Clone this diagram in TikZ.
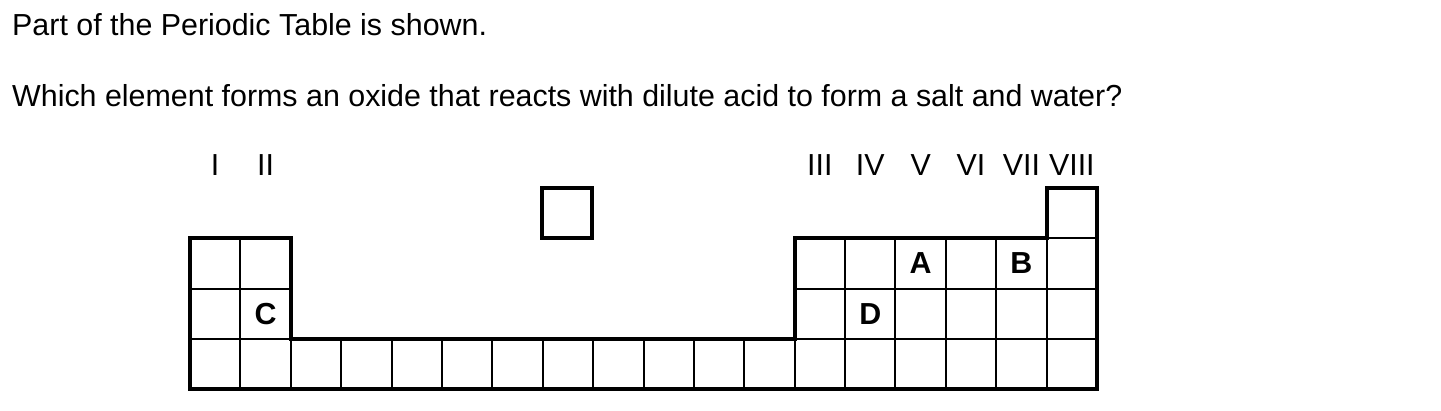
\documentclass[tikz,border=0pt]{standalone}
\usepackage{fontspec}
\setmainfont{Liberation Sans}
\begin{document}
\begin{tikzpicture}[x=1pt,y=-1pt,
  txt/.style={inner sep=0pt,font=\fontsize{30.4}{36}\selectfont},
  lbl/.style={inner sep=0pt,font=\fontsize{30.4}{36}\selectfont\bfseries},
  thin/.style={line width=2pt,draw=black},
  thick/.style={line width=4pt,draw=black,line join=miter}]
\useasboundingbox[fill=white] (0,0) rectangle (1441,410);
\def\cw{50.39}
\def\xl{190}
% question text
\node[txt,anchor=base west] (q1) at (12,35) {Part of the Periodic Table is shown.};
\node[txt,anchor=base west] (q2) at (12,106) {Which element forms an oxide that reacts with dilute acid to form a salt and water?};
% group numerals
\foreach \k/\t in {1/I,2/II,13/III,14/IV,15/V,16/VI,17/VII,18/VIII}{
  \node[txt,anchor=base] (g\k) at ({\xl+(\k-0.5)*\cw},175) {\t};
}
% thin grid lines
\draw[thin] (\xl,288.5) -- (291,288.5);
\draw[thin] (240.4,238) -- (240.4,389);
\draw[thin] (\xl,339) -- (1097,339);
\draw[thin] (795,288.5) -- (1097,288.5);
\draw[thin] (1047,238) -- (1097,238);
\foreach \k in {13,...,17}{
  \draw[thin] ({\xl+\k*\cw},238) -- ({\xl+\k*\cw},389);
}
\foreach \k in {1,...,17}{
  \draw[thin] ({\xl+\k*\cw},339) -- ({\xl+\k*\cw},389);
}
% thick outline
\draw[thick] (\xl,238) -- (291,238) -- (291,339) -- (795,339) -- (795,238)
  -- (1047,238) -- (1047,188) -- (1097,188) -- (1097,389) -- (\xl,389) -- cycle;
% separate box
\draw[thick] (542,188) rectangle (592,237.5);
% element letters
\node[lbl] (A) at ({\xl+14.5*\cw},263.5) {A};
\node[lbl] (B) at ({\xl+16.5*\cw},263.5) {B};
\node[lbl] (C) at ({\xl+1.5*\cw},314) {C};
\node[lbl] (D) at ({\xl+13.5*\cw},314) {D};
\end{tikzpicture}
\end{document}
